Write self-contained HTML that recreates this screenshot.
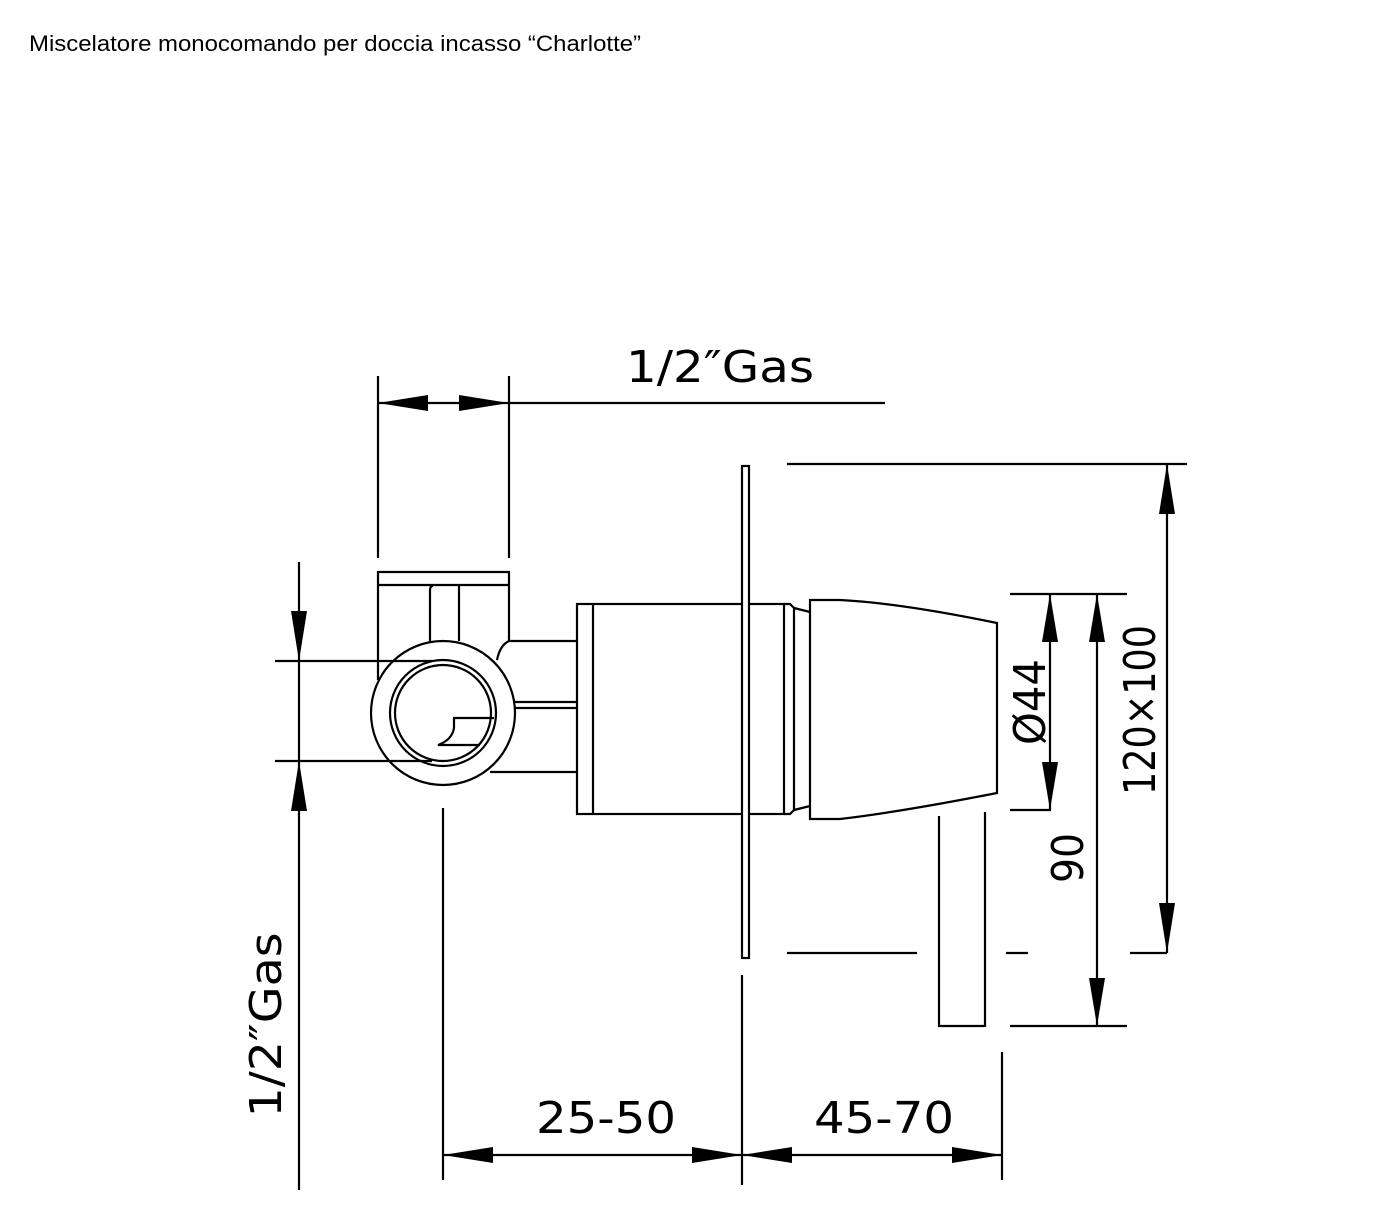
<!DOCTYPE html>
<html><head><style>
html,body{margin:0;padding:0;background:#fff;}
svg{display:block;}
.t{font-family:"Liberation Sans",sans-serif;}
.d{font-family:"DejaVu Sans","Liberation Sans",sans-serif;font-weight:normal;}
</style></head><body>
<svg width="1396" height="1227" viewBox="0 0 1396 1227" xmlns="http://www.w3.org/2000/svg">
<text x="29" y="51" class="t" font-size="22" fill="#000" textLength="612" lengthAdjust="spacingAndGlyphs">Miscelatore monocomando per doccia incasso “Charlotte”</text>
<g stroke="#000" stroke-width="2.2" fill="none">
<line x1="378" y1="376" x2="378" y2="558"/>
<line x1="509" y1="376" x2="509" y2="558"/>
<line x1="378" y1="403" x2="885" y2="403"/>
<path d="M378 680 V572 H509 V641"/>
<line x1="378" y1="585" x2="509" y2="585"/>
<path d="M430 641 V590 Q430 586 433 586"/>
<line x1="459" y1="586" x2="459" y2="641"/>
<circle cx="443" cy="713" r="72"/>
<circle cx="443" cy="713" r="53"/>
<circle cx="443" cy="713" r="48"/>
<path d="M494 718 H454 V728 Q452 740 438 745 H480"/>
<line x1="275" y1="661" x2="432" y2="661"/>
<line x1="275" y1="761" x2="432" y2="761"/>
<path d="M497 660 Q500 645 509 641 H577"/>
<line x1="515" y1="702" x2="577" y2="702"/>
<line x1="515" y1="708" x2="577" y2="708"/>
<line x1="490" y1="772" x2="577" y2="772"/>
<rect x="577" y="604" width="207" height="210"/>
<line x1="593" y1="604" x2="593" y2="814"/>
<path d="M784 604 H790 L794 608 V810 L790 814 H784"/>
<line x1="794" y1="608" x2="810" y2="612"/>
<line x1="794" y1="810" x2="810" y2="806"/>
<rect x="742" y="466" width="7" height="492" fill="#fff"/>
<path d="M810 600 H840 Q900 603 997 623 V793 Q900 812 840 819 H810 Z"/>
<path d="M939 816 V1026 H985 V812"/>
<line x1="787" y1="464" x2="1187" y2="464"/>
<line x1="1167" y1="464" x2="1167" y2="953"/>
<line x1="787" y1="953" x2="917" y2="953"/>
<line x1="1006" y1="953" x2="1028" y2="953"/>
<line x1="1130" y1="953" x2="1167" y2="953"/>
<line x1="1010" y1="594" x2="1127" y2="594"/>
<line x1="1097" y1="594" x2="1097" y2="1026"/>
<line x1="1010" y1="1026" x2="1127" y2="1026"/>
<path d="M1010 810 H1050 V594"/>
<line x1="299" y1="562" x2="299" y2="1190"/>
<line x1="443" y1="808" x2="443" y2="1180"/>
<line x1="742" y1="975" x2="742" y2="1185"/>
<line x1="1002" y1="1052" x2="1002" y2="1180"/>
<line x1="443" y1="1155" x2="1002" y2="1155"/>
</g>
<g fill="#000">
<polygon points="378,403 428,395 428,411"/>
<polygon points="509,403 459,395 459,411"/>
<polygon points="1167,464 1159,514 1175,514"/>
<polygon points="1167,953 1159,903 1175,903"/>
<polygon points="1097,594 1089,642 1105,642"/>
<polygon points="1097,1026 1089,978 1105,978"/>
<polygon points="1050,594 1042,642 1058,642"/>
<polygon points="1050,810 1042,762 1058,762"/>
<polygon points="299,661 291,611 307,611"/>
<polygon points="299,761 291,811 307,811"/>
<polygon points="443,1155 493,1147 493,1163"/>
<polygon points="742,1155 692,1147 692,1163"/>
<polygon points="742,1155 792,1147 792,1163"/>
<polygon points="1002,1155 952,1147 952,1163"/>
</g>
<g class="d" fill="#000" font-size="44">
<text x="720" y="382" text-anchor="middle" textLength="188" lengthAdjust="spacingAndGlyphs">1/2″Gas</text>
<text x="606" y="1133" text-anchor="middle" textLength="140" lengthAdjust="spacingAndGlyphs">25-50</text>
<text x="884" y="1133" text-anchor="middle" textLength="140" lengthAdjust="spacingAndGlyphs">45-70</text>
<text transform="translate(281,1025) rotate(-90)" text-anchor="middle" textLength="185" lengthAdjust="spacingAndGlyphs">1/2″Gas</text>
<text transform="translate(1155,710) rotate(-90)" text-anchor="middle" textLength="170" lengthAdjust="spacingAndGlyphs">120×100</text>
<text transform="translate(1083,858) rotate(-90)" text-anchor="middle" textLength="50" lengthAdjust="spacingAndGlyphs">90</text>
<text transform="translate(1045,702) rotate(-90)" text-anchor="middle" textLength="86" lengthAdjust="spacingAndGlyphs">Ø44</text>
</g>
</svg>
</body></html>
